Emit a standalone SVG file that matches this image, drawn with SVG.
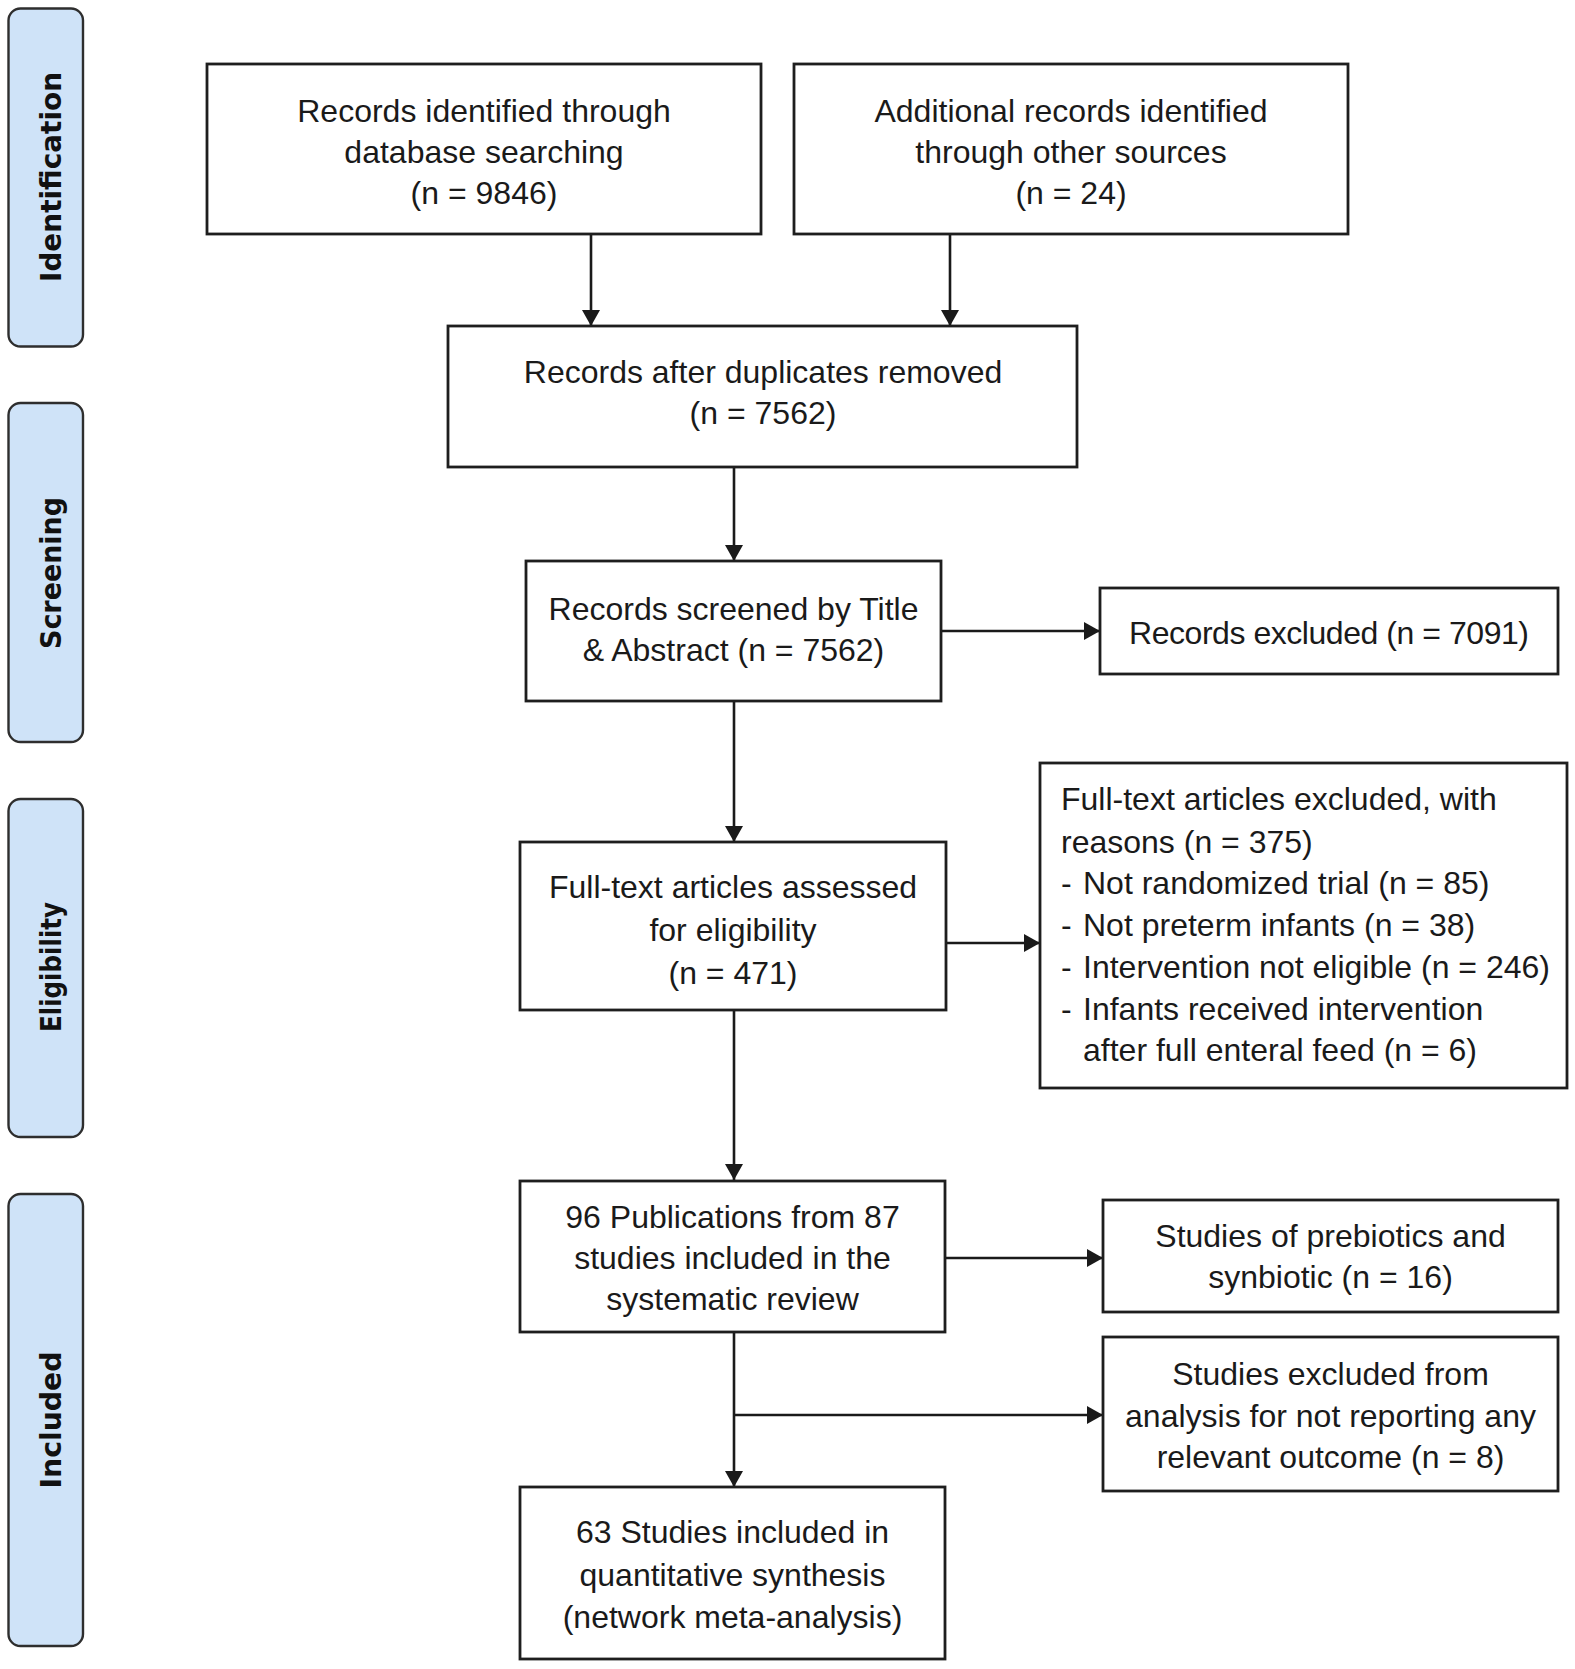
<svg xmlns="http://www.w3.org/2000/svg" width="1575" height="1669" viewBox="0 0 1575 1669">
<defs>
<style>
.box{fill:#ffffff;stroke:#1e1e1e;stroke-width:2.8}
.phase{fill:#cfe3f8;stroke:#2e2e2e;stroke-width:2.4}
.t{font-family:"Liberation Sans",Arial,sans-serif;font-size:32px;fill:#1a1a1a}
.c{text-anchor:middle}
.ph{font-family:"DejaVu Sans",Verdana,sans-serif;font-weight:bold;font-size:28px;fill:#111;text-anchor:middle}
.con{fill:none;stroke:#1a1a1a;stroke-width:2.6}
</style>
<marker id="arr" markerWidth="16" markerHeight="18" refX="16" refY="9" orient="auto" markerUnits="userSpaceOnUse">
<path d="M0,0 L16,9 L0,18 z" fill="#1a1a1a"/>
</marker>
</defs>
<rect width="1575" height="1669" fill="#ffffff"/>

<g id="phase-identification">
<rect class="phase" x="8.5" y="8.5" width="74.5" height="338" rx="12"/>
<text class="ph" transform="translate(61,177) rotate(-90)" textLength="210" lengthAdjust="spacingAndGlyphs">Identification</text>
</g>
<g id="phase-screening">
<rect class="phase" x="8.5" y="403" width="74.5" height="339" rx="12"/>
<text class="ph" transform="translate(61,573) rotate(-90)" textLength="152" lengthAdjust="spacingAndGlyphs">Screening</text>
</g>
<g id="phase-eligibility">
<rect class="phase" x="8.5" y="799" width="74.5" height="338" rx="12"/>
<text class="ph" transform="translate(61,967) rotate(-90)" textLength="130" lengthAdjust="spacingAndGlyphs">Eligibility</text>
</g>
<g id="phase-included">
<rect class="phase" x="8.5" y="1194" width="74.5" height="452" rx="12"/>
<text class="ph" transform="translate(61,1420) rotate(-90)" textLength="137" lengthAdjust="spacingAndGlyphs">Included</text>
</g>

<g id="connectors">
<path class="con" d="M591,234 V326" marker-end="url(#arr)"/>
<path class="con" d="M950,234 V326" marker-end="url(#arr)"/>
<path class="con" d="M734,467 V561" marker-end="url(#arr)"/>
<path class="con" d="M941,631 H1100" marker-end="url(#arr)"/>
<path class="con" d="M734,701 V842" marker-end="url(#arr)"/>
<path class="con" d="M946,943 H1040" marker-end="url(#arr)"/>
<path class="con" d="M734,1010 V1180" marker-end="url(#arr)"/>
<path class="con" d="M945,1258 H1103" marker-end="url(#arr)"/>
<path class="con" d="M734,1332 V1487" marker-end="url(#arr)"/>
<path class="con" d="M734,1415 H1103" marker-end="url(#arr)"/>
</g>

<g id="node-db">
<rect class="box" x="207" y="64" width="554" height="170"/>
<text class="t c" x="484" y="122">Records identified through</text>
<text class="t c" x="484" y="163">database searching</text>
<text class="t c" x="484" y="204">(n = 9846)</text>
</g>
<g id="node-other">
<rect class="box" x="794" y="64" width="554" height="170"/>
<text class="t c" x="1071" y="122">Additional records identified</text>
<text class="t c" x="1071" y="163">through other sources</text>
<text class="t c" x="1071" y="204">(n = 24)</text>
</g>
<g id="node-dedup">
<rect class="box" x="448" y="326" width="629" height="141"/>
<text class="t c" x="763" y="383">Records after duplicates removed</text>
<text class="t c" x="763" y="424">(n = 7562)</text>
</g>
<g id="node-screened">
<rect class="box" x="526" y="561" width="415" height="140"/>
<text class="t c" x="733.5" y="620">Records screened by Title</text>
<text class="t c" x="733.5" y="661">&amp; Abstract (n = 7562)</text>
</g>
<g id="node-excluded">
<rect class="box" x="1100" y="588" width="458" height="86"/>
<text class="t c" x="1329" y="644" textLength="400" lengthAdjust="spacing">Records excluded (n = 7091)</text>
</g>
<g id="node-fulltext">
<rect class="box" x="520" y="842" width="426" height="168"/>
<text class="t c" x="733" y="898">Full-text articles assessed</text>
<text class="t c" x="733" y="941">for eligibility</text>
<text class="t c" x="733" y="984">(n = 471)</text>
</g>
<g id="node-fulltext-excluded">
<rect class="box" x="1040" y="763" width="527" height="325"/>
<text class="t" x="1061" y="810">Full-text articles excluded, with</text>
<text class="t" x="1061" y="853">reasons (n = 375)</text>
<text class="t" x="1061" y="894">-</text>
<text class="t" x="1083" y="894">Not randomized trial (n = 85)</text>
<text class="t" x="1061" y="936">-</text>
<text class="t" x="1083" y="936">Not preterm infants (n = 38)</text>
<text class="t" x="1061" y="978">-</text>
<text class="t" x="1083" y="978">Intervention not eligible (n = 246)</text>
<text class="t" x="1061" y="1020">-</text>
<text class="t" x="1083" y="1020">Infants received intervention</text>
<text class="t" x="1083" y="1061">after full enteral feed (n = 6)</text>
</g>
<g id="node-review">
<rect class="box" x="520" y="1181" width="425" height="151"/>
<text class="t c" x="732.5" y="1228">96 Publications from 87</text>
<text class="t c" x="732.5" y="1269">studies included in the</text>
<text class="t c" x="732.5" y="1310">systematic review</text>
</g>
<g id="node-prebiotics">
<rect class="box" x="1103" y="1200" width="455" height="112"/>
<text class="t c" x="1330.5" y="1247">Studies of prebiotics and</text>
<text class="t c" x="1330.5" y="1288">synbiotic (n = 16)</text>
</g>
<g id="node-noreport">
<rect class="box" x="1103" y="1337" width="455" height="154"/>
<text class="t c" x="1330.5" y="1385">Studies excluded from</text>
<text class="t c" x="1330.5" y="1427">analysis for not reporting any</text>
<text class="t c" x="1330.5" y="1468">relevant outcome (n = 8)</text>
</g>
<g id="node-nma">
<rect class="box" x="520" y="1487" width="425" height="172"/>
<text class="t c" x="732.5" y="1543">63 Studies included in</text>
<text class="t c" x="732.5" y="1586">quantitative synthesis</text>
<text class="t c" x="732.5" y="1628">(network meta-analysis)</text>
</g>
</svg>
